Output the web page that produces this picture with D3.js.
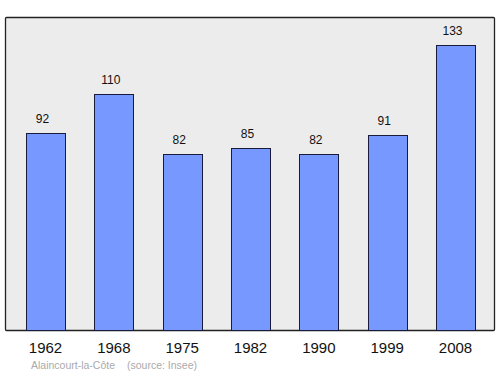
<!DOCTYPE html>
<html><head><meta charset="utf-8">
<script src="https://cdn.jsdelivr.net/npm/d3@7"></script>
<style>html,body{margin:0;padding:0;background:#fff;}svg{display:block;}</style>
</head><body>
<script>
const years = ["1962","1968","1975","1982","1990","1999","2008"];
const population = [92,110,82,85,82,91,133];
const caption = "Alaincourt-la-Côte";
const source = "(source: Insee)";

const W = 500, H = 374;
const frame = {x0: 5.5, y0: 17.5, x1: 494.5, y1: 330.5};
const svg = d3.select("body").append("svg").attr("width", W).attr("height", H);

svg.append("rect").attr("x", frame.x0).attr("y", frame.y0)
  .attr("width", frame.x1 - frame.x0).attr("height", frame.y1 - frame.y0)
  .attr("fill", "#ececec").attr("stroke", "#222").attr("stroke-width", 1.3).attr("rx", 1);

const x = d3.scaleBand().domain(years).range([5.5, 495.5]).paddingInner(0.429).paddingOuter(0.3);
const y = d3.scaleLinear().domain([0, 146]).range([330, 17]);

svg.selectAll("rect.bar").data(population).join("rect").attr("class", "bar")
  .attr("x", (d, i) => Math.round(x(years[i])) + 0.5)
  .attr("y", d => Math.round(y(d)) + 0.5)
  .attr("width", Math.round(x.bandwidth()))
  .attr("height", d => y(0) - Math.round(y(d)))
  .attr("fill", "#7799ff").attr("stroke", "#1a1a3a").attr("stroke-width", 1);

svg.selectAll("text.val").data(population).join("text").attr("class", "val")
  .attr("x", (d, i) => x(years[i]) + x.bandwidth() / 2 - 3)
  .attr("y", d => y(d) - 10)
  .attr("text-anchor", "middle").attr("font-family", "Liberation Sans, Arial, sans-serif")
  .attr("font-size", 12).attr("fill", "#111").text(d => d);

const ax = svg.append("g").attr("transform", `translate(0,${frame.y1})`)
  .call(d3.axisBottom(x).tickSize(0).tickPadding(0));
ax.select(".domain").remove();
ax.selectAll("text").attr("dy", null).attr("y", 22).attr("font-family", "Liberation Sans, Arial, sans-serif")
  .attr("font-size", 15).attr("fill", "#111");

svg.append("text").attr("x", 31).attr("y", 369)
  .attr("font-family", "Liberation Sans, Arial, sans-serif").attr("font-size", 10.5)
  .attr("fill", "#aaa").text(caption);
svg.append("text").attr("x", 127).attr("y", 369)
  .attr("font-family", "Liberation Sans, Arial, sans-serif").attr("font-size", 10.5)
  .attr("fill", "#aaa").text(source);
</script>
</body></html>
